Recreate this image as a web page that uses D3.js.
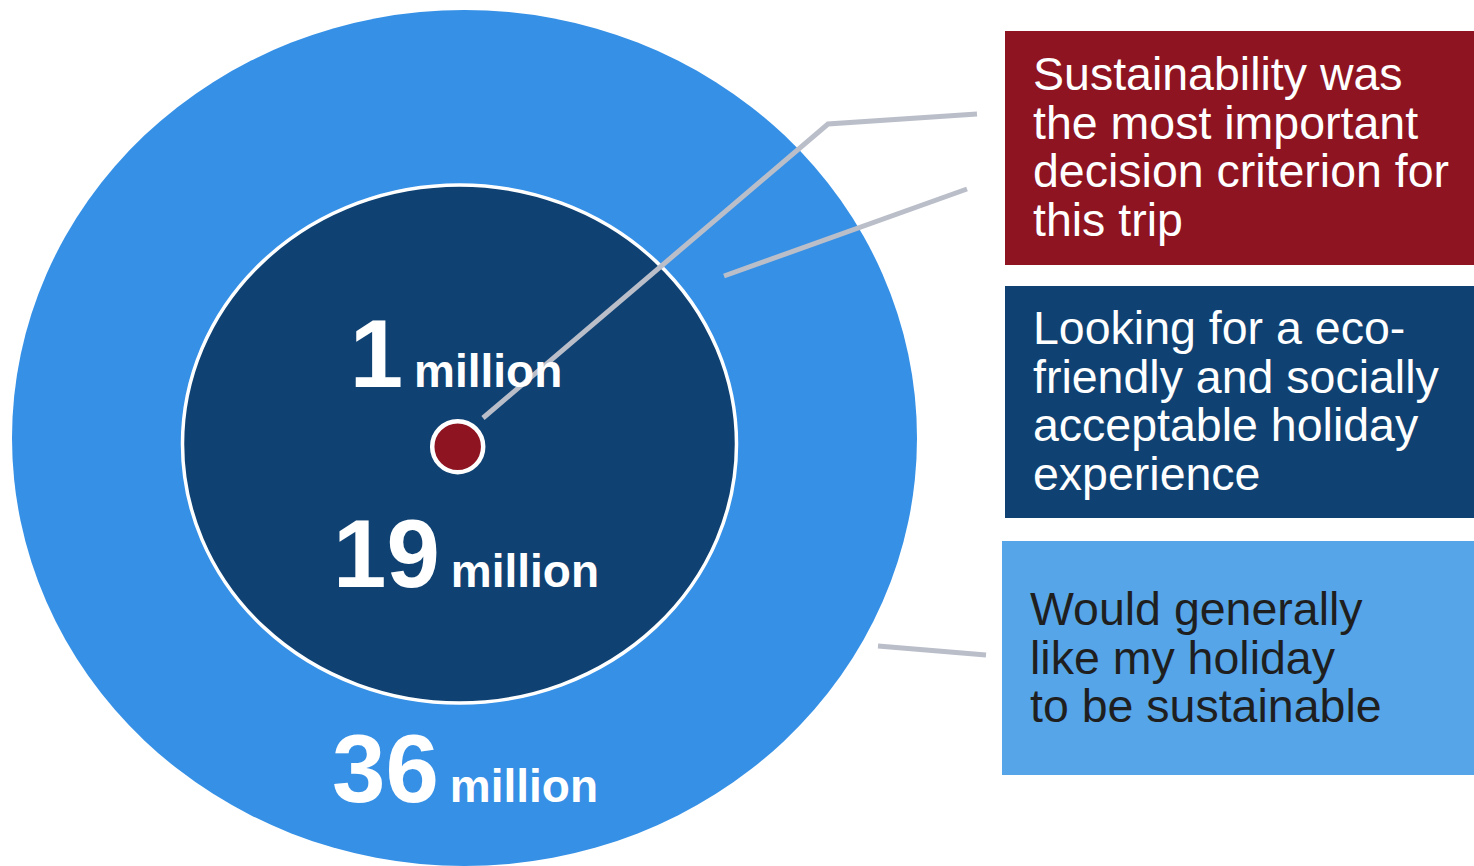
<!DOCTYPE html>
<html>
<head>
<meta charset="utf-8">
<script src="https://cdn.jsdelivr.net/npm/d3@7"></script>
<style>
  body { margin: 0; background: #fff; }
  svg { display: block; font-family: "Liberation Sans", Arial, sans-serif; }
</style>
</head>
<body>
<svg id="chart" width="1474" height="866"></svg>
<script>
// values (millions of travellers), outer -> inner
var values = [36, 19, 1];
var unit = "million";
var fills = ["#3590e6", "#0f4273", "#8e1422"];
var boxFills = ["#8e1422", "#0f4273", "#56a5e8"];
var boxText = ["#ffffff", "#ffffff", "#1f1f1f"];
var descriptions = [
  ["Sustainability was", "the most important", "decision criterion for", "this trip"],
  ["Looking for a eco-", "friendly and socially", "acceptable holiday", "experience"],
  ["Would generally", "like my holiday", "to be sustainable"]
];

var svg = d3.select("#chart");

// ellipse geometry (outer, middle, inner dot)
var rings = [
  {cx: 464.5, cy: 438, rx: 452.5, ry: 428, stroke: "none", sw: 0},
  {cx: 459.5, cy: 444, rx: 277, ry: 259, stroke: "#fff", sw: 3.5},
  {cx: 457.7, cy: 446.7, rx: 25.5, ry: 25.5, stroke: "#fff", sw: 4.5}
];

svg.selectAll("ellipse.ring")
  .data(values)
  .enter().append("ellipse")
    .attr("class", "ring")
    .attr("cx", function(d, i) { return rings[i].cx; })
    .attr("cy", function(d, i) { return rings[i].cy; })
    .attr("rx", function(d, i) { return rings[i].rx; })
    .attr("ry", function(d, i) { return rings[i].ry; })
    .style("fill", function(d, i) { return fills[i]; })
    .style("stroke", function(d, i) { return rings[i].stroke; })
    .style("stroke-width", function(d, i) { return rings[i].sw; });

// connector lines, drawn before the dot so the dot sits on top
var connectors = [
  [[483, 418], [828, 124], [977, 114]],
  [[724, 276], [967, 189]],
  [[878, 646], [986, 655]]
];
var line = d3.line();
svg.insert("g", "ellipse.ring:nth-of-type(3)")
  .selectAll("path")
  .data(connectors)
  .enter().append("path")
    .attr("d", line)
    .style("fill", "none")
    .style("stroke", "#babec9")
    .style("stroke-width", 5);

// number labels: order matches values (36, 19, 1)
var labelPos = [[465, 802], [466, 587], [456, 387]];
var lbl = svg.append("g").selectAll("text")
  .data(values)
  .enter().append("text")
    .attr("x", function(d, i) { return labelPos[i][0]; })
    .attr("y", function(d, i) { return labelPos[i][1]; })
    .attr("text-anchor", "middle")
    .style("fill", "#fff")
    .style("font-weight", "bold");
lbl.append("tspan").style("font-size", "96px").text(function(d) { return d; });
lbl.append("tspan").style("font-size", "46px").attr("dx", 11).text(unit);

// description boxes (top to bottom: 1m, 19m, 36m)
var boxes = [
  {x: 1005, y: 31, h: 234, tx: 1033, ty: 90},
  {x: 1005, y: 286, h: 232, tx: 1033, ty: 344},
  {x: 1002, y: 541, h: 234, tx: 1030, ty: 625}
];
var bg = svg.append("g").selectAll("g")
  .data(descriptions)
  .enter().append("g");
bg.append("rect")
  .attr("x", function(d, i) { return boxes[i].x; })
  .attr("y", function(d, i) { return boxes[i].y; })
  .attr("width", function(d, i) { return 1474 - boxes[i].x; })
  .attr("height", function(d, i) { return boxes[i].h; })
  .style("fill", function(d, i) { return boxFills[i]; });
bg.each(function(lines, i) {
  var t = d3.select(this).append("text")
    .attr("x", boxes[i].tx)
    .attr("y", boxes[i].ty)
    .style("font-size", "46.5px")
    .style("fill", boxText[i]);
  t.selectAll("tspan")
    .data(lines)
    .enter().append("tspan")
      .attr("x", boxes[i].tx)
      .attr("dy", function(d, j) { return j ? 48.5 : 0; })
      .text(function(d) { return d; });
});
</script>
</body>
</html>
